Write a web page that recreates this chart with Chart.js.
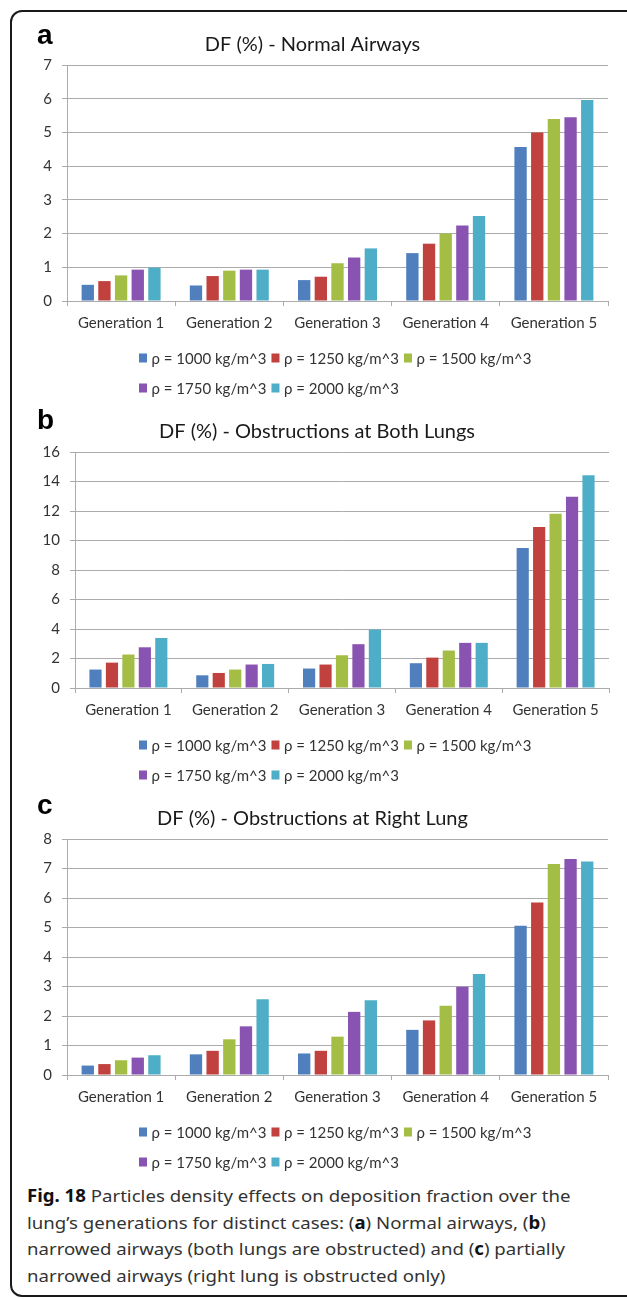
<!DOCTYPE html>
<html>
<head>
<meta charset="utf-8">
<script src="https://cdn.jsdelivr.net/npm/chart.js@4.4.1/dist/chart.umd.min.js"></script>
<style>
  body { margin: 0; background: #fff; }
  #page { position: relative; width: 627px; height: 1299px; overflow: hidden; background: #fff; }
  #frame { position: absolute; left: 10px; top: 10px; width: 700px; height: 1287px; box-sizing: border-box;
           border: 2px solid #1a1a1a; border-radius: 12px; }
  canvas { position: absolute; left: 0; }
  .panel { position: absolute; left: 37px; font: bold 28px "Liberation Sans", Arial, sans-serif; line-height: 28px; color: #000; }
  #caption { position: absolute; left: 27px; top: 1183px; font: 17px "Noto Sans", sans-serif; line-height: 26.7px;
             color: #333; white-space: nowrap; transform-origin: 0 0; }
  #caption b { color: #111; }
</style>
</head>
<body>
<div id="page">
  <div id="frame"></div>
  <canvas id="chartA" width="627" height="400" style="top:0px"></canvas>
  <canvas id="chartB" width="627" height="390" style="top:400px"></canvas>
  <canvas id="chartC" width="627" height="390" style="top:790px"></canvas>
  <div class="panel" style="top:21px">a</div>
  <div class="panel" style="top:406px">b</div>
  <div class="panel" style="top:791px">c</div>
  <div id="caption">
    <div id="capLine1"><b>Fig. 18</b> Particles density effects on deposition fraction over the</div>
    <div>lung’s generations for distinct cases: (<b>a</b>) Normal airways, (<b>b</b>)</div>
    <div>narrowed airways (both lungs are obstructed) and (<b>c</b>) partially</div>
    <div>narrowed airways (right lung is obstructed only)</div>
  </div>
</div>
<script>
// categories and series names
const generations = ['Generation 1', 'Generation 2', 'Generation 3', 'Generation 4', 'Generation 5'];
const densityLabels = ['ρ = 1000 kg/m^3', 'ρ = 1250 kg/m^3', 'ρ = 1500 kg/m^3', 'ρ = 1750 kg/m^3', 'ρ = 2000 kg/m^3'];
const densityColors = ['#4f7fbd', '#c0413d', '#a3bd45', '#8953b1', '#4eaec8'];

// (a) normal airways
const normal1000 = [0.48, 0.46, 0.62, 1.42, 4.57];
const normal1250 = [0.59, 0.74, 0.72, 1.70, 5.00];
const normal1500 = [0.76, 0.90, 1.12, 2.00, 5.40];
const normal1750 = [0.93, 0.93, 1.29, 2.24, 5.45];
const normal2000 = [0.99, 0.93, 1.56, 2.52, 5.96];

// (b) obstructions at both lungs
const both1000 = [1.25, 0.86, 1.32, 1.68, 9.50];
const both1250 = [1.72, 1.02, 1.59, 2.06, 10.91];
const both1500 = [2.27, 1.25, 2.22, 2.54, 11.81];
const both1750 = [2.76, 1.59, 2.97, 3.06, 12.97];
const both2000 = [3.39, 1.63, 3.96, 3.06, 14.42];

// (c) obstructions at right lung
const right1000 = [0.32, 0.70, 0.73, 1.53, 5.06];
const right1250 = [0.37, 0.82, 0.82, 1.85, 5.85];
const right1500 = [0.50, 1.21, 1.30, 2.35, 7.15];
const right1750 = [0.59, 1.65, 2.14, 2.99, 7.32];
const right2000 = [0.67, 2.57, 2.53, 3.42, 7.24];

const gridColor = '#ababab';
const textColor = '#333';

// legend in two left-aligned rows, like the Excel original
const legendRows = {
  id: 'legendRows',
  afterDraw(chart) {
    const { ctx, chartArea } = chart;
    ctx.save();
    ctx.font = '15px Lato';
    ctx.textBaseline = 'middle';
    let x = 139, row = 0;
    chart.data.datasets.forEach((ds, i) => {
      if (i === 3) { row = 1; x = 139; }
      const y = chartArea.bottom + 57 + row * 30;
      ctx.fillStyle = ds.backgroundColor;
      ctx.fillRect(x, y - 4.5, 8, 9);
      ctx.fillStyle = textColor;
      ctx.fillText(ds.label, x + 12.5, y + 1);
      x += 12.5 + ctx.measureText(ds.label).width + 5;
    });
    ctx.restore();
  }
};

function makeChart(id, title, series, yMax, yStep, box) {
  const ctx = document.getElementById(id).getContext('2d');
  return new Chart(ctx, {
    type: 'bar',
    data: {
      labels: generations,
      datasets: series.map((values, i) => ({
        label: densityLabels[i],
        data: values,
        backgroundColor: densityColors[i],
        categoryPercentage: 0.77,
        barPercentage: 0.74
      }))
    },
    options: {
      responsive: false,
      animation: false,
      layout: {
        padding: { top: box.top, left: box.left - 50, right: 627 - box.right, bottom: box.bottom }
      },
      plugins: {
        legend: { display: false },
        tooltip: { enabled: false },
        title: {
          display: true,
          text: title,
          color: '#1a1a1a',
          font: { family: 'Lato', size: 20, weight: 'normal', lineHeight: 1.2 },
          padding: { top: 0, bottom: 8 }
        }
      },
      scales: {
        x: {
          afterFit: (scale) => { scale.height = 40; },
          grid: { drawOnChartArea: false, drawTicks: true, tickLength: 5, color: gridColor, offset: true },
          border: { color: gridColor },
          ticks: { color: textColor, padding: 8, font: { family: 'Lato', size: 15 } }
        },
        y: {
          min: 0,
          max: yMax,
          afterFit: (scale) => { scale.width = 50; },
          grid: { color: gridColor, tickLength: 5 },
          border: { color: gridColor },
          ticks: { stepSize: yStep, color: textColor, padding: 10, font: { family: 'Lato', size: 15 } }
        }
      }
    },
    plugins: [legendRows]
  });
}

makeChart('chartA', 'DF (%) - Normal Airways',
  [normal1000, normal1250, normal1500, normal1750, normal2000], 7, 1,
  { top: 33, left: 67, right: 608, bottom: 59 });

makeChart('chartB', 'DF (%) - Obstructions at Both Lungs',
  [both1000, both1250, both1500, both1750, both2000], 16, 2,
  { top: 20, left: 75, right: 609, bottom: 62 });

makeChart('chartC', 'DF (%) - Obstructions at Right Lung',
  [right1000, right1250, right1500, right1750, right2000], 8, 1,
  { top: 17, left: 67, right: 608, bottom: 65 });

// squeeze the caption to the width of the original text block
const cap = document.getElementById('caption');
const line1 = document.getElementById('capLine1');
const w = line1.scrollWidth;
cap.style.transform = 'scaleX(' + (543 / w) + ')';
</script>
</body>
</html>
